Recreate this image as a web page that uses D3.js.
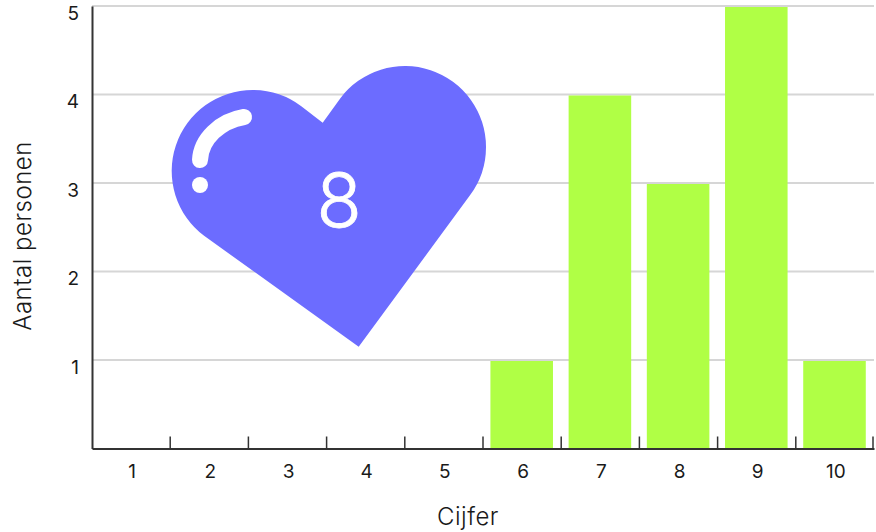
<!DOCTYPE html>
<html>
<head>
<meta charset="utf-8">
<script src="https://cdn.jsdelivr.net/npm/d3@7"></script>
<style>
  html, body { margin: 0; padding: 0; background: #fff; }
  svg { display: block; }
  text { font-family: Inter, sans-serif; fill: #1a1a1a; }
</style>
</head>
<body>
<div id="chart"></div>
<script>
// Data
const cijfers = ['1', '2', '3', '4', '5', '6', '7', '8', '9', '10'];
const aantallen = [0, 0, 0, 0, 0, 1, 4, 3, 5, 1];
const yTicks = [1, 2, 3, 4, 5];
const gemiddelde = '8';

const COLORS = {
  bar: '#B0FF45',
  heart: '#6C6CFF',
  grid: '#D6D6D6',
  axis: '#333333'
};

const width = 876, height = 532;
const margin = {top: 6, right: 2, bottom: 83.5, left: 92};

const svg = d3.select('#chart').append('svg')
  .attr('width', width)
  .attr('height', height);

// Scales
const x = d3.scaleBand()
  .domain(cijfers)
  .range([margin.left, width - margin.right])
  .paddingInner(0);

const y = d3.scaleLinear()
  .domain([0, 5])
  .range([height - margin.bottom, margin.top]);

// Gridlines
svg.append('g')
  .selectAll('line')
  .data(yTicks)
  .join('line')
    .attr('x1', margin.left)
    .attr('x2', width - margin.right)
    .attr('y1', d => y(d))
    .attr('y2', d => y(d))
    .attr('stroke', COLORS.grid)
    .attr('stroke-width', 2);

// Bars, starting just under their gridline
const barInset = x.bandwidth() * 0.1;
svg.append('g')
  .selectAll('rect')
  .data(aantallen.filter(d => d > 0))
  .join('rect')
    .attr('x', (d, i) => x(cijfers[aantallen.findIndex(v => v > 0) + i]) + barInset - 0.4)
    .attr('y', d => y(d) + 1)
    .attr('width', x.bandwidth() - 2 * barInset)
    .attr('height', d => y(0) - y(d) - 1)
    .attr('fill', COLORS.bar);

// Y axis
const yAxis = svg.append('g')
  .attr('transform', `translate(${margin.left},0)`)
  .call(d3.axisLeft(y).tickValues(yTicks).tickSize(0).tickPadding(13).tickFormat(d3.format('d')));
yAxis.select('.domain').attr('stroke', COLORS.axis).attr('stroke-width', 2);
yAxis.selectAll('text').attr('font-size', 19).attr('dy', '0.7em').style('font-family', 'Inter, sans-serif');

// X axis
const xAxis = svg.append('g')
  .attr('transform', `translate(0,${y(0)})`)
  .call(d3.axisBottom(x).tickSize(0).tickPadding(16));
xAxis.select('.domain').attr('stroke', COLORS.axis).attr('stroke-width', 2);
xAxis.selectAll('text').attr('font-size', 19).attr('dx', 1).style('font-family', 'Inter, sans-serif');

// Ticks between the categories
const tickEdges = cijfers.slice(1).map(c => x(c)).concat([x.range()[1] - 1]);
xAxis.append('g')
  .selectAll('line')
  .data(tickEdges)
  .join('line')
    .attr('x1', d => d)
    .attr('x2', d => d)
    .attr('y1', -12)
    .attr('y2', 0)
    .attr('stroke', COLORS.axis)
    .attr('stroke-width', 1.5);

// Axis titles
svg.append('text')
  .attr('x', 468)
  .attr('y', 525)
  .attr('text-anchor', 'middle')
  .attr('font-size', 24)
  .attr('font-weight', 300)
  .attr('letter-spacing', 0.5)
  .text('Cijfer');

svg.append('text')
  .attr('transform', 'translate(31,236) rotate(-90)')
  .attr('text-anchor', 'middle')
  .attr('font-size', 24)
  .attr('font-weight', 300)
  .attr('letter-spacing', 0.5)
  .text('Aantal personen');

// Heart with the average
const heart = svg.append('g');
heart.append('path')
  .attr('d', 'M322.7,122.7 L340.2,98.4 A81,81 0 0 1 486,147 A81,81 0 0 1 469.8,195.6 L358.7,346.7 L204.1,235.8 A81,81 0 0 1 252.7,90 A81,81 0 0 1 301.3,106.2 Z')
  .attr('fill', COLORS.heart);
heart.append('path')
  .attr('d', 'M200,160 C201,139 220,121 244,117')
  .attr('fill', 'none')
  .attr('stroke', '#fff')
  .attr('stroke-width', 16)
  .attr('stroke-linecap', 'round');
heart.append('circle')
  .attr('cx', 200)
  .attr('cy', 185)
  .attr('r', 8)
  .attr('fill', '#fff');
heart.append('text')
  .attr('x', 339)
  .attr('y', 227)
  .attr('text-anchor', 'middle')
  .attr('font-size', 74)
  .attr('font-weight', 300)
  .attr('stroke', '#fff')
  .attr('stroke-width', 0.8)
  .style('fill', '#fff')
  .text(gemiddelde);
</script>
</body>
</html>
